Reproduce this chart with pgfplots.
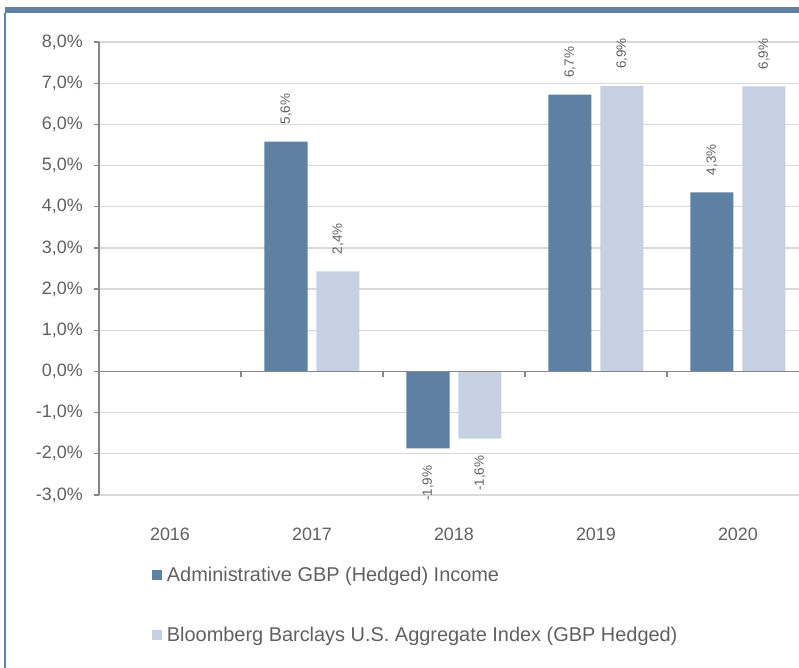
\documentclass[border=0pt]{standalone}
\usepackage{pgfplots}
\pgfplotsset{compat=1.18}
\usepackage{fontspec}
\setmainfont{Liberation Sans}
\definecolor{darkb}{HTML}{5E80A3}
\definecolor{lightb}{HTML}{C5D1E2}
\definecolor{txt}{HTML}{606060}
\definecolor{gridc}{HTML}{D9D9D9}
\definecolor{axc}{HTML}{868686}
\begin{document}
\begin{tikzpicture}
\useasboundingbox (-99bp,-173bp) rectangle (700bp,495bp);
\fill[darkb] (-94bp,482bp) rectangle (700bp,488bp);
\fill[darkb] (-95bp,-173bp) rectangle (-93bp,482bp);
\begin{axis}[
  at={(0,0)}, anchor=south west,
  scale only axis, width=700bp, height=453bp,
  xmin=-0.5, xmax=4.43, ymin=-3, ymax=8,
  ybar, bar width=0.303,
  axis x line*=bottom, axis y line*=left,
  x axis line style={draw=none},
  y axis line style={axc, line width=1.2bp},
  xtick={0,1,2,3,4}, xticklabels={2016,2017,2018,2019,2020},
  x tick style={draw=none},
  ytick={-3,-2,...,8},
  yticklabels={{-3,0\%},{-2,0\%},{-1,0\%},{0,0\%},{1,0\%},{2,0\%},{3,0\%},{4,0\%},{5,0\%},{6,0\%},{7,0\%},{8,0\%}},
  y tick style={axc, line width=1.2bp},
  major tick length=5bp, tick align=outside,
  ymajorgrids, grid style={gridc, line width=1.2bp},
  yticklabel style={font=\fontsize{18}{18}\selectfont, text=txt, inner sep=0pt, xshift=-11bp},
  xticklabel style={font=\fontsize{18}{18}\selectfont, text=txt, inner sep=0pt, yshift=-28bp},
  point meta=explicit symbolic,
  nodes near coords={\pgfplotspointmeta},
  visualization depends on={rawy \as \rawy},
  every node near coord/.append style={font=\fontsize{13.5}{13.5}\selectfont, text=txt, rotate=90, inner xsep=17bp, inner ysep=0pt,
    /utils/exec={\ifdim\rawy pt<0pt \gdef\myanc{east}\else\gdef\myanc{west}\fi}, anchor=\myanc},
  legend style={at={(0.076,-0.155)}, anchor=north west, draw=none, fill=none, font=\fontsize{20}{20}\selectfont, text=txt, row sep=40bp, inner sep=0pt},
  legend cell align=left,
  legend image code/.code={\fill[#1, draw=none] (0bp,-5bp) rectangle (10bp,5bp); \path (12.5bp,0bp);},
]
\addplot[fill=darkb, draw=none, bar shift=-0.183] coordinates {(1,5.58) [5,6\%] (2,-1.87) [-1,9\%] (3,6.72) [6,7\%] (4,4.35) [4,3\%]};
\addplot[fill=lightb, draw=none, bar shift=0.183] coordinates {(1,2.43) [2,4\%] (2,-1.63) [-1,6\%] (3,6.93) [6,9\%] (4,6.92) [6,9\%]};
\legend{Administrative GBP (Hedged) Income, Bloomberg Barclays U.S. Aggregate Index (GBP Hedged)}
\draw[axc, line width=1.5bp] (axis cs:-0.5,0) -- (axis cs:4.43,0);
\pgfplotsinvokeforeach{0.5,1.5,2.5,3.5}{\draw[axc, line width=1.2bp] (axis cs:#1,0) -- ([yshift=-6bp]axis cs:#1,0);}
\end{axis}
\end{tikzpicture}
\end{document}
